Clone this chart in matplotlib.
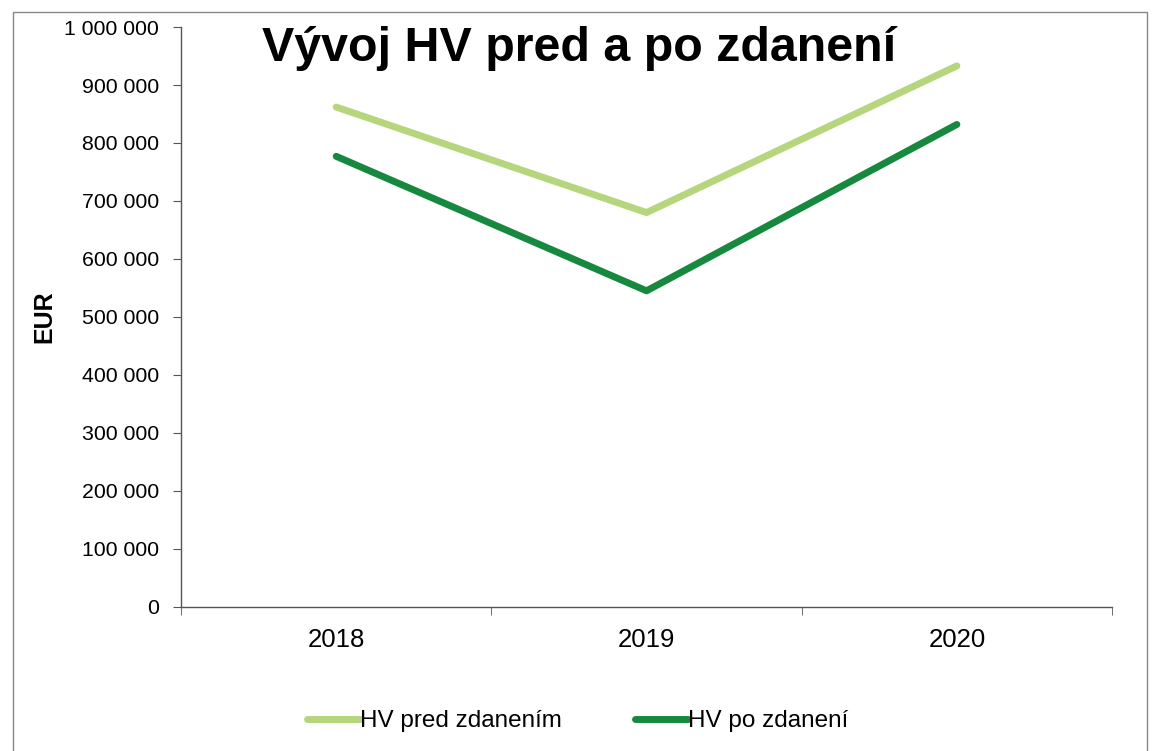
import numpy as np
import matplotlib
matplotlib.use('Agg')
from matplotlib import pyplot as plt
from matplotlib.patches import Rectangle
from matplotlib.ticker import FuncFormatter, FixedLocator

# Data
years = ['2018', '2019', '2020']
hv_pred = [862000, 680000, 933000]
hv_po = [777000, 545000, 832000]

plt.rcParams['font.family'] = ['Liberation Sans', 'DejaVu Sans']

fig = plt.figure(figsize=(11.53, 7.51), dpi=100)
ax = fig.add_axes([0.157, 0.192, 0.8075, 0.772])

x = np.arange(len(years))
ax.plot(x, hv_pred, c='#b5d67c', lw=5, solid_capstyle='round', label='HV pred zdanením')
ax.plot(x, hv_po, c='#17893f', lw=5, solid_capstyle='round', label='HV po zdanení')

ax.set_xlim(-0.5, len(years) - 0.5)
ax.set_ylim(0, 1000000)
ax.set_yticks(np.arange(0, 1000001, 100000))
ax.yaxis.set_major_formatter(FuncFormatter(lambda v, p: '{:,.0f}'.format(v).replace(',', ' ')))

# Category labels centred, ticks at category boundaries
ax.set_xticks(x)
ax.set_xticklabels(years, fontsize=18.5)
ax.tick_params(axis='x', which='major', length=0, pad=15)
ax.xaxis.set_minor_locator(FixedLocator(np.arange(-0.5, len(years), 1.0)))
ax.tick_params(axis='x', which='minor', length=6, color='#555555', direction='out')
ax.tick_params(axis='y', labelsize=15.3, length=6, color='#555555', pad=10)

for s in ['top', 'right']:
    ax.spines[s].set_visible(False)
for s in ['left', 'bottom']:
    ax.spines[s].set_color('#555555')
    ax.spines[s].set_linewidth(1.0)

ax.set_ylabel('EUR', fontsize=18, fontweight='bold')
ax.yaxis.set_label_coords(-0.134, 0.5)

fig.text(0.502, 0.935, 'Vývoj HV pred a po zdanení', fontsize=34.8, fontweight='bold',
         ha='center', va='center')

ax.legend(loc='center', bbox_to_anchor=(0.426, -0.197), ncol=2, frameon=False,
          fontsize=17.5, handlelength=2.2, handletextpad=0.0, columnspacing=3.0)

# Outer chart frame
fig.patches.append(Rectangle((13 / 1153, -0.05), (1147 - 13) / 1153, 1.05 - 12 / 751,
                             transform=fig.transFigure, fill=False, ec='#888888', lw=1.0))

fig.savefig('out.png', dpi=100)
